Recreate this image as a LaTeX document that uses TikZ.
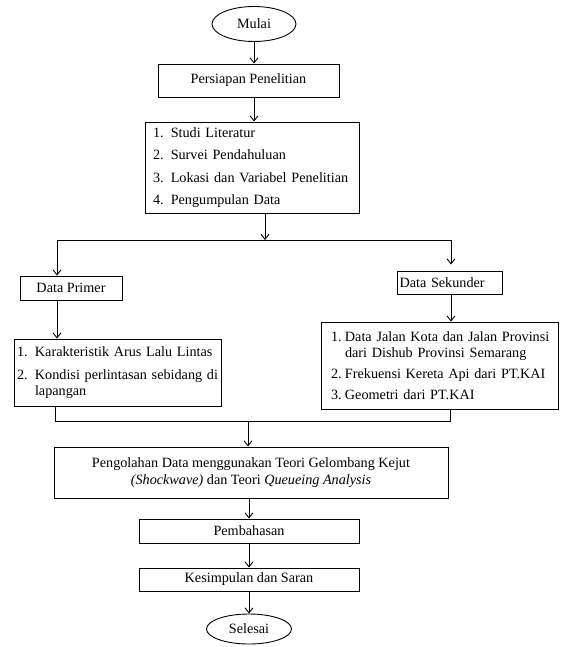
\documentclass[tikz,border=0pt]{standalone}
\usepackage{fontspec}
\setmainfont{Liberation Serif}
\usetikzlibrary{arrows.meta,shapes.geometric}

\begin{document}
\begin{tikzpicture}[x=1pt, y=-1pt, line width=0.9pt,
   arr/.style={-{Straight Barb[length=5pt,width=8pt]}},
   box/.style={draw, rectangle, inner sep=2pt, font=\fontsize{14.2}{16}\selectfont},
   term/.style={draw, ellipse, inner sep=0pt, font=\fontsize{14.2}{16}\selectfont}]
\useasboundingbox (0,0) rectangle (563,647);

\node[term, minimum width=84, minimum height=35] (mulai) at (254,24) {Mulai};
\node[box, minimum width=181, minimum height=33] (persiapan) at (248.5,80.5) {Persiapan Penelitian};
\node[box, minimum width=214, minimum height=91, text width=198, align=left, inner xsep=8pt,
   font=\fontsize{14.2}{22.3}\selectfont] (tahap) at (252,167.5)
   {1. Studi Literatur\\ 2. Survei Pendahuluan\\ 3. Lokasi dan Variabel Penelitian\\ 4. Pengumpulan Data};

\coordinate (split) at (265,240);
\coordinate (splitL) at (57,240);
\coordinate (splitR) at (451,240);

\node[box, minimum width=102, minimum height=24] (primer) at (71,288) {Data Primer};
\node[box, minimum width=105, minimum height=23, text width=101, align=left, inner xsep=2pt] (sekunder) at (450,282.5) {Data Sekunder};

\node[box, minimum width=207, minimum height=67, text width=201, align=left, inner xsep=3pt] (arus) at (117.5,372.5)
   {\makebox[18pt][l]{1.}Karakteristik Arus Lalu Lintas\\[7pt]
    \makebox[18pt][l]{2.}Kondisi perlintasan sebidang di\\ \hspace*{18pt}lapangan};
\node[box, minimum width=237, minimum height=87, text width=217, align=left, inner xsep=10pt] (sumber) at (439.5,365.5)
   {\makebox[14pt][l]{1.}\makebox[203pt][s]{Data Jalan Kota dan Jalan Provinsi}\\
    \hspace*{14pt}dari Dishub Provinsi Semarang\\[5pt]
    \makebox[14pt][l]{2.}Frekuensi Kereta Api dari PT.KAI\\[5pt]
    \makebox[14pt][l]{3.}Geometri dari PT.KAI};

\coordinate (merge) at (248,421);
\coordinate (mergeL) at (55,421);
\coordinate (mergeR) at (450,421);

\node[box, minimum width=394, minimum height=51, align=center, font=\fontsize{14.2}{17.5}\selectfont] (olah) at (251,472.5)
   {Pengolahan Data menggunakan Teori Gelombang Kejut\\ \textit{(Shockwave)} dan Teori \textit{Queueing Analysis}};
\node[box, minimum width=220, minimum height=24] (bahas) at (249,531) {Pembahasan};
\node[box, minimum width=220, minimum height=23] (simpul) at (249,579.5) {Kesimpulan dan Saran};
\node[term, minimum width=85, minimum height=30] (selesai) at (249,629) {Selesai};

\draw[arr] (mulai.south) -- (mulai.south |- persiapan.north);
\draw[arr] (mulai.south |- persiapan.south) -- (mulai.south |- tahap.north);
\draw[arr] (split |- tahap.south) -- (split);
\draw (splitL) -- (splitR);
\draw[arr] (splitL) -- (splitL |- primer.north);
\draw[arr, shorten >=6pt] (splitR) -- (splitR |- sekunder.north);
\draw[arr] (splitL |- primer.south) -- (splitL |- arus.north);
\draw[arr] (splitR |- sekunder.south) -- (splitR |- sumber.north);
\draw (mergeL |- arus.south) -- (mergeL) -- (mergeR) -- (mergeR |- sumber.south);
\draw[arr] (merge) -- (merge |- olah.north);
\draw[arr] (bahas.north |- olah.south) -- (bahas.north);
\draw[arr] (simpul.north |- bahas.south) -- (simpul.north);
\draw[arr] (simpul.south) -- (selesai.north);
\end{tikzpicture}
\end{document}
